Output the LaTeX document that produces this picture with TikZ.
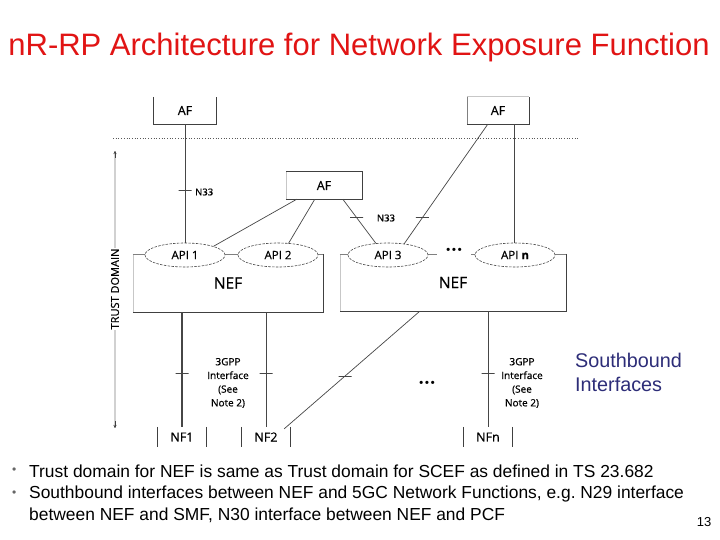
\documentclass[tikz,border=0pt]{standalone}
\usepackage{fontspec}
\setmainfont{Liberation Sans}
\newfontfamily\dia[FakeBold=0.6]{Open Sans}
\usetikzlibrary{calc,arrows.meta,shapes.geometric}
\definecolor{titlered}{RGB}{225,20,20}
\definecolor{sbblue}{RGB}{45,45,120}
\definecolor{ln}{RGB}{70,70,70}
\begin{document}
\begin{tikzpicture}[x=1pt,y=-1pt,
  every node/.style={inner sep=0pt},
  boxn/.style={rectangle, draw=none, fill=white, font=\dia\fontsize{12.5}{14}\selectfont},
  api/.style={ellipse, draw=ln, line width=0.6pt, dash pattern=on 2.5pt off 1.3pt, fill=white, minimum width=80pt, minimum height=24pt, font=\dia\fontsize{11.5}{12}\selectfont},
  conn/.style={draw=ln, line width=0.7pt},
  tickmk/.style={rectangle, draw=ln, line width=0.7pt, minimum width=13pt, minimum height=0pt, inner sep=0pt, fill=none},
  lbl/.style={font=\dia\fontsize{10}{13.7}\selectfont, align=center},
  dk/.style={draw=black!75, line width=0.7pt},
  md/.style={draw=black!50, line width=0.6pt},
  fa/.style={draw=black!22, line width=0.6pt},
  bodytxt/.style={anchor=west, font=\fontsize{17.4}{18}\selectfont},
  dotsn/.style={font=\fontsize{11}{12}\selectfont},
]
\useasboundingbox[fill=white] (0,0) rectangle (720,540);

% title
\node[text=titlered, font=\fontsize{31}{34}\selectfont] (title) at (359,47) {nR-RP Architecture for Network Exposure Function};

% trust boundary
\coordinate (dl) at (113,138);
\coordinate (dr) at (580,138);
\draw[dotted, black!65, line width=0.7pt] (dl) -- (dr);

% trust domain arrow
\coordinate (tdtop) at (115,151);
\coordinate (tdbot) at (115,428);
\draw[black!18, line width=2pt] (tdtop) -- (tdbot);
\draw[black!75, line width=0.5pt, -{Stealth[length=3pt,width=3pt]}] (115,158) -- (tdtop);
\draw[black!75, line width=0.5pt, -{Stealth[length=3pt,width=3pt]}] (115,421) -- (tdbot);
\node[rotate=90, fill=white, inner sep=1pt, font=\dia\fontsize{11}{12}\selectfont] (td) at (115,289) {TRUST DOMAIN};

% AF boxes
\node[boxn, minimum width=63pt, minimum height=27pt] (af1) at (185,110.5) {AF};
\draw[dk] (af1.north west) -- (af1.south west) -- (af1.south east) -- (af1.north east);
\node[boxn, minimum width=62pt, minimum height=27pt] (af2) at (498,110.5) {AF};
\draw[fa] (af2.north west) -- (af2.north east);
\draw[md] (af2.north west) -- (af2.south west);
\draw[dk] (af2.south west) -- (af2.south east) -- (af2.north east);
\node[boxn, minimum width=76pt, minimum height=27pt] (afm) at (324,185.5) {AF};
\draw[fa] (afm.north west) -- (afm.south west);
\draw[dk] (afm.south west) -- (afm.south east) -- (afm.north east) -- (afm.north west);

% NEF boxes
\node[boxn, minimum width=190pt, minimum height=58pt, font=\dia\fontsize{15.5}{16}\selectfont] (nefl) at (228,283) {NEF};
\draw[fa] (nefl.north west) -- (nefl.south west);
\draw[md] (nefl.north west) -- (nefl.north east);
\draw[dk] (nefl.north east) -- (nefl.south east) -- (nefl.south west);
\node[boxn, minimum width=226pt, minimum height=57pt, font=\dia\fontsize{15.5}{16}\selectfont] (nefr) at (453,282.5) {NEF};
\draw[fa] (nefr.north west) -- (nefr.south west);
\draw[md] (nefr.north west) -- (nefr.north east);
\draw[dk] (nefr.north east) -- (nefr.south east) -- (nefr.south west);

% APIs
\node[api] (api1) at (185,255) {API 1};
\node[api] (api2) at (278,255) {API 2};
\node[api] (api3) at (388,255) {API 3};
\node[api] (apin) at (515,255) {API \textbf{n}};
\node[dotsn, fill=white, minimum width=34pt, minimum height=14pt] (dots1) at (454,251) {\textbf{\textbullet\,\textbullet\,\textbullet}};

% NF boxes
\node[boxn, minimum width=49pt, minimum height=20pt] (nf1) at (182,437) {NF1};
\node[boxn, minimum width=48pt, minimum height=20pt] (nf2) at (266,437) {NF2};
\node[boxn, minimum width=48pt, minimum height=20pt] (nfn) at (488,437) {NFn};
\foreach \n in {nf1,nf2,nfn}{
  \draw[dk] (\n.north west) -- (\n.south west);
  \draw[dk] (\n.north east) -- (\n.south east);
}

% connectors top
\draw[conn] (af1.south) -- node[tickmk, pos=0.56]{} (api1.north);
\node[anchor=west, font=\dia\fontsize{9.5}{10}\selectfont] (n33a) at (195,192) {N33};

\coordinate (m1) at ($(afm.south west)+(11,0)$);
\coordinate (m2) at ($(afm.south west)+(29,0)$);
\coordinate (m3) at ($(afm.south west)+(57,0)$);
\coordinate (a2t) at ($(api2.center)+(10.5,-11.6)$);
\coordinate (a3t) at ($(api3.center)+(-12,-11.5)$);
\coordinate (a3r) at ($(api3.center)+(16,-11)$);
\draw[conn] (m1) -- (api1.north east);
\draw[conn] (m2) -- (a2t);
\draw[conn] (m3) -- node[tickmk, pos=0.42]{} (a3t);
\node[font=\dia\fontsize{9.5}{10}\selectfont] (n33b) at (386,218) {N33};

\coordinate (f1) at ($(af2.south west)+(21,0)$);
\coordinate (f2) at ($(af2.south west)+(48,0)$);
\draw[conn] (f1) -- node[tickmk, pos=0.78]{} (a3r);
\draw[conn] (f2) -- (f2 |- apin.north);

% connectors bottom
\coordinate (nb1) at (nefl.south -| nf1.north);
\coordinate (nb2) at (nefl.south -| nf2.north);
\coordinate (nb3) at ($(nefr.south west)+(80,0)$);
\coordinate (nb4) at (nefr.south -| nfn.north);
\coordinate (nf2c) at ($(nf2.north east)+(-6,2)$);
\draw[conn, line width=1.3pt] (nb1) -- node[tickmk, pos=0.53]{} (nf1.north);
\draw[conn] (nb2) -- node[tickmk, pos=0.53]{} (nf2.north);
\draw[conn] (nb3) -- node[tickmk, pos=0.55]{} (nf2c);
\draw[conn] (nb4) -- node[tickmk, pos=0.54]{} (nfn.north);

\node[lbl] (if1) at (228,383) {3GPP\\Interface\\(See\\Note 2)};
\node[lbl] (if2) at (522,383) {3GPP\\Interface\\(See\\Note 2)};
\node[dotsn] (dots2) at (427,384) {\textbf{\textbullet\,\textbullet\,\textbullet}};

% southbound
\node[anchor=west, align=left, text=sbblue, font=\fontsize{19.8}{24}\selectfont] (sb) at (575,372) {Southbound\\Interfaces};

% bullets
\node[anchor=west, text=black!60, font=\fontsize{12}{14}\selectfont] (bu1) at (12,471) {\textbullet};
\node[anchor=west, text=black!60, font=\fontsize{12}{14}\selectfont] (bu2) at (12,494) {\textbullet};
\node[bodytxt] (b1) at (29,471) {Trust domain for NEF is same as Trust domain for SCEF as defined in TS 23.682};
\node[bodytxt] (b2) at (29,494) {Southbound interfaces between NEF and 5GC Network Functions, e.g.\ N29 interface};
\node[bodytxt] (b3) at (29,515) {between NEF and SMF, N30 interface between NEF and PCF};
\node[font=\fontsize{13}{14}\selectfont] (pg) at (704,522) {13};
\end{tikzpicture}
\end{document}
